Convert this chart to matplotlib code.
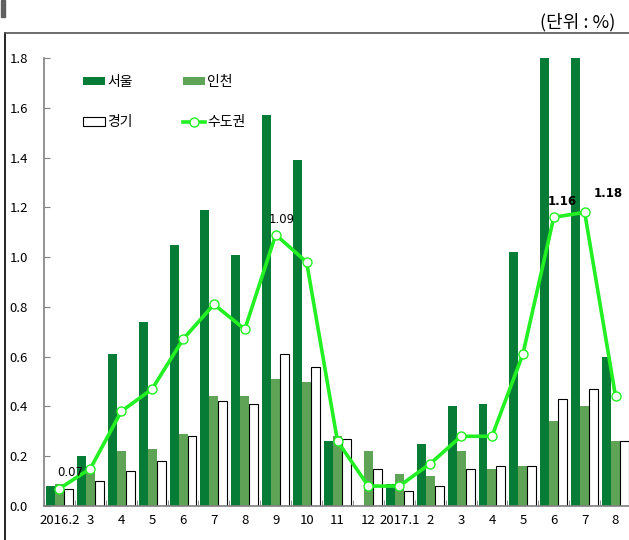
import matplotlib
matplotlib.use('Agg')
from matplotlib import pyplot as plt
from matplotlib.patches import Patch, Rectangle
from matplotlib.lines import Line2D
import numpy as np

plt.rcParams['font.family'] = ['Noto Sans CJK KR', 'DejaVu Sans']

months = ['2016.2', '3', '4', '5', '6', '7', '8', '9', '10', '11', '12',
          '2017.1', '2', '3', '4', '5', '6', '7', '8']
seoul = [0.08, 0.20, 0.61, 0.74, 1.05, 1.19, 1.01, 1.57, 1.39, 0.26, 0.00,
         0.09, 0.25, 0.40, 0.41, 1.02, 2.00, 2.00, 0.60]
incheon = [0.09, 0.15, 0.22, 0.23, 0.29, 0.44, 0.44, 0.51, 0.50, 0.28, 0.22,
           0.13, 0.12, 0.22, 0.15, 0.16, 0.34, 0.40, 0.26]
gyeonggi = [0.07, 0.10, 0.14, 0.18, 0.28, 0.42, 0.41, 0.61, 0.56, 0.27, 0.15,
            0.06, 0.08, 0.15, 0.16, 0.16, 0.43, 0.47, 0.26]
metro = [0.07, 0.15, 0.38, 0.47, 0.67, 0.81, 0.71, 1.09, 0.98, 0.26, 0.08,
         0.08, 0.17, 0.28, 0.28, 0.61, 1.16, 1.18, 0.44]
series_names = ['서울', '인천', '경기', '수도권']
# index, label, offset px, bold
labeled = [(0, '0.07', (11, 16), False), (7, '1.09', (6, 15), False),
           (16, '1.16', (8, 16), True), (17, '1.18', (24, 19), True)]

c_seoul = '#077C36'
c_inch = '#5EA356'
c_line = '#22F022'

fig = plt.figure(figsize=(6.29, 5.40), dpi=100)
ax = fig.add_axes([44 / 629, 34 / 540, 587 / 629, 448 / 540])

x = np.arange(len(months))
w = 0.29
ax.bar(x - w, seoul, w, color=c_seoul, lw=0)
ax.bar(x, incheon, w, color=c_inch, lw=0)
ax.bar(x + w, gyeonggi, w, color='white', edgecolor='black', lw=0.8)
ax.plot(x, metro, '-o', color=c_line, lw=2.6, ms=6.5,
        mfc='white', mec=c_line, mew=1.0)

for i, txt, off, bold in labeled:
    ax.annotate(txt, (x[i], metro[i]), xytext=(off[0] * 0.72, off[1] * 0.72),
                textcoords='offset points', ha='center', va='center',
                fontsize=8.5, fontweight='bold' if bold else 'normal',
                family=['DejaVu Sans'])

ax.set_xlim(-0.5, len(months) - 0.5)
ax.set_ylim(0, 1.8)
ax.set_yticks(np.arange(0, 1.81, 0.2))
ax.set_yticklabels(['%.1f' % v for v in np.arange(0, 1.81, 0.2)])
ax.set_xticks(x)
ax.set_xticklabels(months)
ax.set_xticks(np.arange(-0.5, len(months), 1), minor=True)
ax.tick_params(axis='x', which='major', length=0, pad=6, labelsize=9.5)
ax.tick_params(axis='x', which='minor', length=4, direction='in', color='#808080')
ax.tick_params(axis='y', length=4, direction='in', color='#808080', pad=11.5, labelsize=9.5)
for s in ['top', 'right']:
    ax.spines[s].set_visible(False)
for s in ['left', 'bottom']:
    ax.spines[s].set_color('#808080')
    ax.spines[s].set_linewidth(1.2)

handles = [Patch(facecolor=c_seoul), Patch(facecolor='white', edgecolor='black', lw=0.8),
           Patch(facecolor=c_inch),
           Line2D([], [], color=c_line, lw=2.6, marker='o', ms=6.5, mfc='white', mec=c_line)]
ax.legend(handles, [series_names[0], series_names[2], series_names[1], series_names[3]],
          ncol=2, frameon=False, loc='upper left', bbox_to_anchor=(0.045, 0.99),
          fontsize=10, handlelength=1.6, handleheight=0.6, handletextpad=0.15,
          labelspacing=1.9, columnspacing=3.6)

fig.text(615 / 629, 1 - 22 / 540, '(단위 : %)', ha='right', va='center', fontsize=13)
# outer frame
fig.add_artist(Line2D([5 / 629, 5 / 629], [0, 1 - 33 / 540], color='black', lw=1.2))
fig.add_artist(Line2D([5 / 629, 1], [1 - 33 / 540, 1 - 33 / 540], color='#555555', lw=1.2))
fig.add_artist(Rectangle((1 / 629, 1 - 17 / 540), 4 / 629, 17 / 540, color='#606060'))

fig.savefig('out.png', dpi=100)
